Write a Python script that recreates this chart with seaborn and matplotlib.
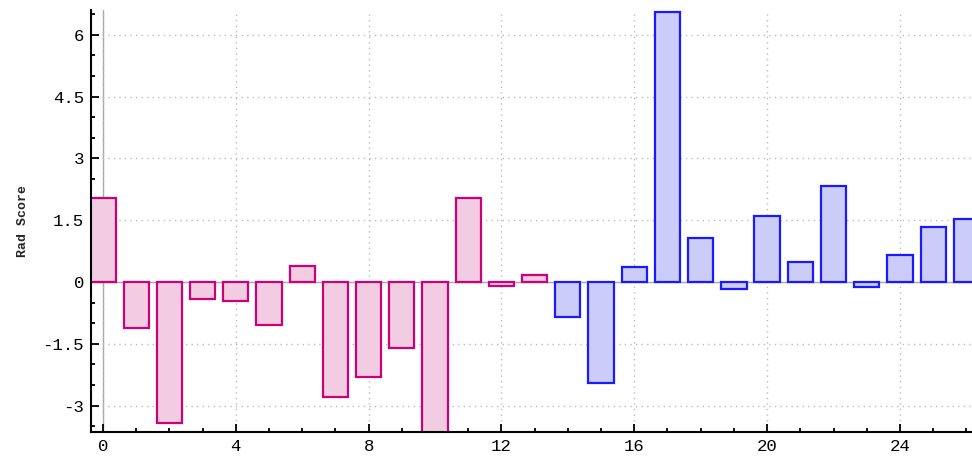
import seaborn as sns
import numpy as np
import matplotlib
matplotlib.use("Agg")
import matplotlib.pyplot as plt
from matplotlib.ticker import MultipleLocator

# sample index and Rad Score per group
pink_idx = list(range(0, 14))
pink_vals = [2.04, -1.12, -3.42, -0.41, -0.46, -1.04, 0.39,
             -2.79, -2.31, -1.60, -3.90, 2.05, -0.10, 0.17]
blue_idx = list(range(14, 27))
blue_vals = [-0.85, -2.45, 0.36, 6.56, 1.07, -0.17, 1.60,
             0.49, 2.33, -0.12, 0.65, 1.34, 1.53]

sns.set_style("white")
plt.rcParams['font.family'] = ['Liberation Mono', 'DejaVu Sans Mono']

fig = plt.figure(figsize=(9.72, 4.57), dpi=100)
ax = fig.add_axes((0.0936, 0.0547, 0.9064, 0.9234))

ax.axhline(0, color='#a8a8a8', lw=1, zorder=0)
ax.axvline(0, color='#a8a8a8', lw=1, zorder=0)

sns.barplot(x=pink_idx, y=pink_vals, native_scale=True, width=0.76,
            color='#f1cce3', saturation=1, edgecolor='#cc0077',
            linewidth=1.6, ax=ax, zorder=2)
sns.barplot(x=blue_idx, y=blue_vals, native_scale=True, width=0.76,
            color='#ccccf8', saturation=1, edgecolor='#1a1aff',
            linewidth=1.6, ax=ax, zorder=2)

ax.set_xlim(-0.36, 26.17)
ax.set_ylim(-3.64, 6.6)
ax.xaxis.set_major_locator(MultipleLocator(4))
ax.xaxis.set_minor_locator(MultipleLocator(1))
ax.yaxis.set_major_locator(MultipleLocator(1.5))
ax.yaxis.set_minor_locator(MultipleLocator(0.5))
ax.set_xticks(range(0, 27, 4))
ax.set_xticklabels([str(v) for v in range(0, 27, 4)])
ax.set_yticks([-3, -1.5, 0, 1.5, 3, 4.5, 6])
ax.set_yticklabels(['-3', '-1.5', '0', '1.5', '3', '4.5', '6'])

ax.grid(True, which='major', color='#bbbbbb', linestyle=(0, (1, 3)), lw=1)
ax.set_axisbelow(True)
for s in ['top', 'right']:
    ax.spines[s].set_visible(False)
for s in ['left', 'bottom']:
    ax.spines[s].set_color('black')
    ax.spines[s].set_linewidth(1.5)

ax.tick_params(which='major', direction='in', length=6, width=1.3,
               labelsize=12.5, colors='black', pad=5)
ax.tick_params(which='minor', direction='in', length=3, width=1.3,
               colors='black')
ax.tick_params(axis='x', which='both', bottom=True)
ax.tick_params(axis='y', which='both', left=True)

ax.set_xlabel('')
ax.set_ylabel('Rad Score', fontsize=9.5, fontweight='bold', labelpad=10)

fig.savefig('out.png', dpi=100)
plt.close()
